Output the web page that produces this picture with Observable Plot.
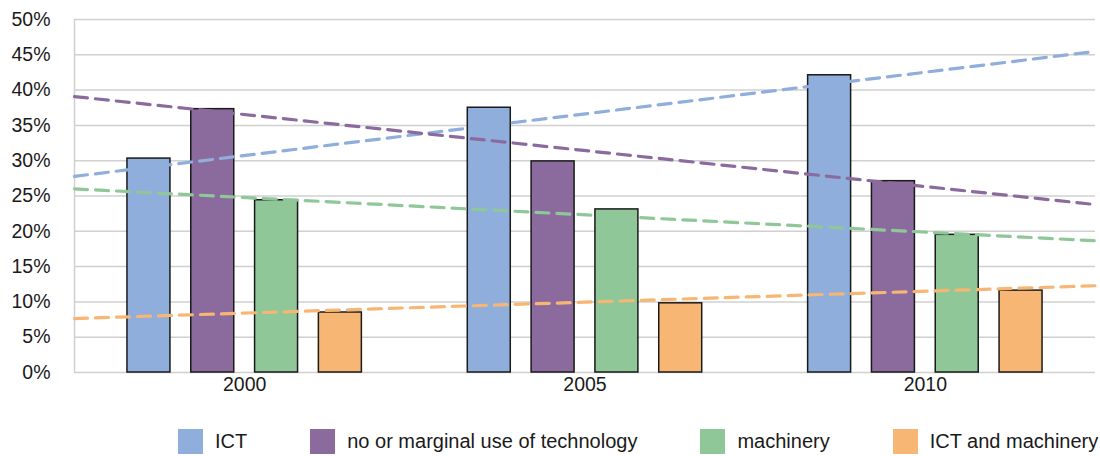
<!DOCTYPE html>
<html><head><meta charset="utf-8">
<script src="https://cdn.jsdelivr.net/npm/d3@7"></script>
<script src="https://cdn.jsdelivr.net/npm/@observablehq/plot@0.6"></script>
<style>
body{margin:0;background:#fff;font-family:Helvetica,"Liberation Sans",Arial,sans-serif;}
#legend{display:flex;align-items:center;margin-left:178px;margin-top:24px;gap:63px;}
.item{display:flex;align-items:center;gap:12px;font-size:20px;color:#1a1a1a;white-space:nowrap;}
.sw{width:25px;height:25px;flex:none;}
</style></head><body><div id="chart"></div><div id="legend"></div>
<script>
const years = ["2000", "2005", "2010"];
const seriesNames = ["ICT", "no or marginal use of technology", "machinery", "ICT and machinery"];
const ictValues = [30.3, 37.5, 42.1];
const noTechValues = [37.3, 29.9, 27.1];
const machineryValues = [24.4, 23.1, 19.5];
const ictMachValues = [8.5, 9.8, 11.6];
const yTicks = [0, 5, 10, 15, 20, 25, 30, 35, 40, 45, 50];
const colors = ["#8FAEDC", "#8B6B9D", "#8FC799", "#F7B673"];

const allValues = [ictValues, noTechValues, machineryValues, ictMachValues];

// group layout (in period units)
const slotStep = 0.1875;
const barWidth = 0.1263;

const bars = [];
allValues.forEach((vals, si) => {
  vals.forEach((v, yi) => {
    const c = (yi + 1) + (si - 1.5) * slotStep;
    bars.push({series: seriesNames[si], x1: c - barWidth / 2, x2: c + barWidth / 2, value: v});
  });
});

// Linear trendlines (least squares over periods 1..3), extended half a period each side
const trend = [];
allValues.forEach((vals, si) => {
  const xs = vals.map((_, i) => i + 1);
  const mx = d3.mean(xs), my = d3.mean(vals);
  const slope = d3.sum(xs.map((x, i) => (x - mx) * (vals[i] - my))) / d3.sum(xs.map(x => (x - mx) ** 2));
  [0.5, 3.5].forEach(x => trend.push({series: seriesNames[si], x, y: my + slope * (x - mx)}));
});

const chart = Plot.plot({
  width: 1100,
  height: 405,
  marginTop: 19,
  marginBottom: 33,
  marginLeft: 74,
  marginRight: 5,
  style: {fontFamily: 'Helvetica, "Liberation Sans", Arial, sans-serif', fontSize: "19.5px", color: "#1a1a1a", background: "#fff"},
  x: {type: "linear", domain: [0.5, 3.5]},
  y: {domain: [0, 50]},
  color: {domain: seriesNames, range: colors},
  marks: [
    Plot.ruleY(yTicks, {stroke: "#d0d0d0", strokeWidth: 1.5}),
    Plot.ruleX([0.5], {stroke: "#d0d0d0", strokeWidth: 1.5}),
    Plot.rect(bars, {x1: "x1", x2: "x2", y1: 0, y2: "value", fill: "series", stroke: "#1a1a1a", strokeWidth: 1.5}),
    Plot.line(trend, {x: "x", y: "y", z: "series", stroke: "series", strokeWidth: 3.2, strokeDasharray: "13,8"}),
    Plot.axisY({ticks: yTicks, tickFormat: d => d + "%", tickSize: 0, tickPadding: 24, fontSize: 19.5}),
    Plot.axisX({ticks: [1, 2, 3], tickFormat: i => years[i - 1], tickSize: 0, tickPadding: 5, fontSize: 19.5})
  ]
});
document.getElementById("chart").appendChild(chart);

const legend = document.getElementById("legend");
seriesNames.forEach((name, i) => {
  const item = document.createElement("div");
  item.className = "item";
  const sw = document.createElement("div");
  sw.className = "sw";
  sw.style.background = colors[i];
  const label = document.createElement("span");
  label.textContent = name;
  item.appendChild(sw);
  item.appendChild(label);
  legend.appendChild(item);
});
</script></body></html>
